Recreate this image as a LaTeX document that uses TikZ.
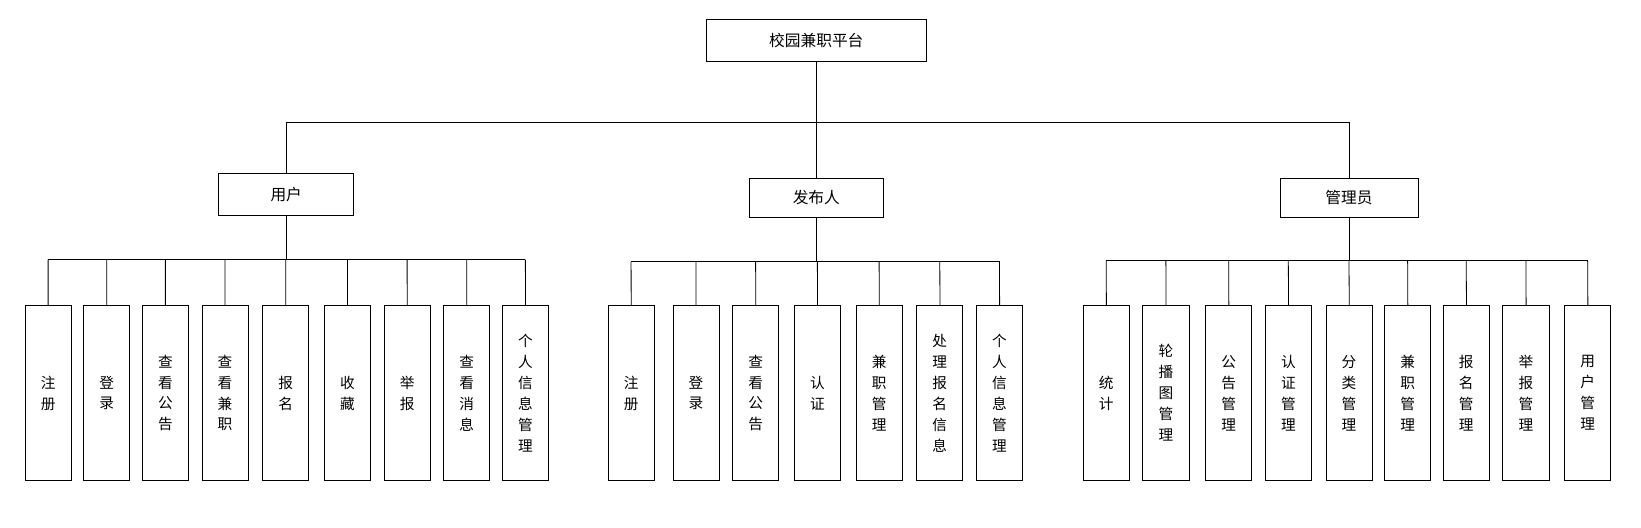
\documentclass[tikz,border=0pt]{standalone}
\usepackage{fontspec}
\newfontfamily\cjk{Noto Sans CJK SC}
\usetikzlibrary{positioning}
\begin{document}
\begin{tikzpicture}[x=1pt,y=-1pt,scale=1.0466,every node/.style={transform shape},
  box/.style={draw,thick,minimum height=40pt,font=\cjk\fontsize{15}{18}\selectfont},
  leaf/.style={draw,thick,minimum width=44pt,minimum height=167pt,align=center,font=\cjk\fontsize{14}{20}\selectfont},
  link/.style={thick}]
\useasboundingbox (0,0) rectangle (1568,504.5);
\node[box,minimum width=210pt] (root) at (780,39) {校园兼职平台};
\node[box,minimum width=129pt] (user) at (273.5,185.5) {用户};
\node[box,minimum width=128pt,minimum height=38pt] (pub) at (780,189) {发布人};
\node[box,minimum width=132pt,minimum height=38pt] (adm) at (1289,189) {管理员};
\coordinate (bus) at (0,117);
\draw[link] (root.south) -- (root.south |- bus);
\draw[link] (user.north) -- (user.north |- bus) -- (adm.north |- bus) -- (adm.north);
\draw[link] (pub.north) -- (pub.north |- bus);
% user leaves
\foreach \x/\t [count=\i] in {46/注\\册, 102/登\\录, 158/查\\看\\公\\告, 215/查\\看\\兼\\职, 273/报\\名,
  332/收\\藏, 389/举\\报, 446/查\\看\\消\\息, 502/个\\人\\信\\息\\管\\理} {
  \node[leaf] (u\i) at (\x,375.5) {\t};
  \draw[link] (u\i.north) -- (\x,248);
}
\draw[link] (u1.north |- 0,248) -- (u9.north |- 0,248);
\draw[link] (user.south) -- (user.south |- 0,248);
% publisher leaves
\foreach \x/\t [count=\i] in {603/注\\册, 665/登\\录, 722/查\\看\\公\\告, 781/认\\证, 840/兼\\职\\管\\理,
  898/处\\理\\报\\名\\信\\息, 955/个\\人\\信\\息\\管\\理} {
  \node[leaf] (p\i) at (\x,375.5) {\t};
  \draw[link] (p\i.north) -- (\x,250);
}
\draw[link] (p1.north |- 0,250) -- (p7.north |- 0,250);
\draw[link] (pub.south) -- (pub.south |- 0,250);
% admin leaves
\foreach \x/\t [count=\i] in {1057/统\\计, 1114/轮\\播\\图\\管\\理, 1174/公\\告\\管\\理, 1231/认\\证\\管\\理,
  1289/分\\类\\管\\理, 1345/兼\\职\\管\\理, 1401/报\\名\\管\\理, 1458/举\\报\\管\\理, 1517/用\\户\\管\\理} {
  \node[leaf] (a\i) at (\x,375.5) {\t};
  \draw[link] (a\i.north) -- (\x,249);
}
\draw[link] (a1.north |- 0,249) -- (a9.north |- 0,249);
\draw[link] (adm.south) -- (adm.south |- 0,249);
\end{tikzpicture}
\end{document}
